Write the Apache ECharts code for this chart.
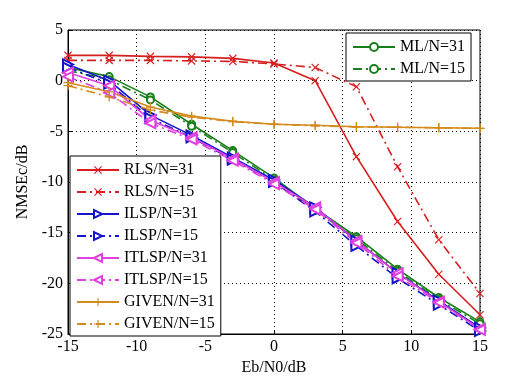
<!DOCTYPE html>
<html>
<head>
<meta charset="utf-8">
<script src="https://cdn.jsdelivr.net/npm/echarts@6/dist/echarts.min.js"></script>
<style>
  html, body { margin: 0; padding: 0; background: #fff; }
  #chart { width: 526px; height: 382px; }
</style>
</head>
<body>
<div id="chart"></div>
<script>
// Eb/N0 in dB
const snr = [-15, -12, -9, -6, -3, 0, 3, 6, 9, 12, 15]

// NMSEc in dB for each method
const rls31 = [2.5, 2.5, 2.4, 2.35, 2.2, 1.75, 0.0, -7.5, -13.9, -19.1, -23.1]
const rls15 = [2.0, 2.0, 2.0, 1.95, 1.9, 1.65, 1.3, -0.6, -8.5, -15.7, -21.0]
const ilsp31 = [1.6, 0.0, -3.4, -5.4, -7.6, -9.8, -12.5, -15.8, -19.0, -21.7, -24.4]
const ilsp15 = [1.3, -0.3, -3.7, -5.6, -7.8, -10.0, -12.9, -16.3, -19.5, -22.1, -24.7]
const itlsp31 = [0.8, -0.5, -3.9, -5.6, -7.7, -10.0, -12.5, -15.8, -19.0, -21.8, -24.5]
const itlsp15 = [0.4, -1.2, -4.2, -5.8, -7.9, -10.2, -12.7, -16.0, -19.3, -21.9, -24.6]
const given31 = [-0.2, -1.1, -2.6, -3.5, -4.0, -4.3, -4.4, -4.55, -4.6, -4.65, -4.7]
const given15 = [-0.5, -1.6, -2.9, -3.6, -4.05, -4.3, -4.45, -4.55, -4.6, -4.65, -4.7]
const ml31 = [1.3, 0.4, -1.6, -4.3, -6.9, -9.6, -12.6, -15.4, -18.6, -21.4, -23.8]
const ml15 = [1.0, 0.1, -1.9, -4.5, -7.1, -9.8, -12.8, -15.6, -18.8, -21.6, -24.0]

const FONT = 'Liberation Serif'
const DASHDOT = [9, 4, 2, 4]

// marker shapes
const X_MARK = 'path://M0,1L1,0L5,4L9,0L10,1L6,5L10,9L9,10L5,6L1,10L0,9L4,5Z'
const PLUS_MARK = 'path://M4.3,0H5.7V4.3H10V5.7H5.7V10H4.3V5.7H0V4.3H4.3Z'

function mk(name, data, color, dashed, symbol, opts) {
  opts = opts || {}
  return {
    name: name,
    type: 'line',
    data: snr.map((x, i) => [x, data[i]]),
    symbol: symbol,
    symbolSize: opts.size || 8,
    symbolRotate: opts.rotate || 0,
    showAllSymbol: true,
    lineStyle: { color: color, width: 1.6, type: dashed ? DASHDOT : 'solid' },
    itemStyle: opts.hollow
      ? { color: color, borderWidth: 1.6 }
      : { color: color, borderWidth: 0 },
    emphasis: { disabled: true },
    animation: false
  }
}

const RED = '#d81e1e'
const BLUE = '#1414cc'
const MAGENTA = '#e040e0'
const ORANGE = '#d48a1c'
const GREEN = '#1a7f1a'

const chart = echarts.init(document.getElementById('chart'))
chart.setOption({
  backgroundColor: '#fff',
  textStyle: { fontFamily: FONT },
  grid: {
    left: 68, right: 46, top: 30, bottom: 48,
    show: true, borderColor: '#000', borderWidth: 1
  },
  legend: [
    {
      data: ['RLS/N=31', 'RLS/N=15', 'ILSP/N=31', 'ILSP/N=15',
        'ITLSP/N=31', 'ITLSP/N=15', 'GIVEN/N=31', 'GIVEN/N=15'],
      orient: 'vertical',
      left: 70, top: 156,
      itemWidth: 42, itemHeight: 10, itemGap: 6,
      padding: [6, 6, 4, 6],
      backgroundColor: '#fff', borderColor: '#000', borderWidth: 1,
      textStyle: { fontFamily: FONT, fontSize: 16, color: '#000', lineHeight: 16 },
      selectedMode: false
    },
    {
      data: ['ML/N=31', 'ML/N=15'],
      orient: 'vertical',
      left: 346, top: 33,
      itemWidth: 42, itemHeight: 10, itemGap: 6,
      padding: [6, 6, 4, 6],
      backgroundColor: '#fff', borderColor: '#000', borderWidth: 1,
      textStyle: { fontFamily: FONT, fontSize: 16, color: '#000', lineHeight: 16 },
      selectedMode: false
    }
  ],
  xAxis: {
    type: 'value', min: -15, max: 15, interval: 5,
    name: 'Eb/N0/dB', nameLocation: 'middle', nameGap: 25,
    nameTextStyle: { fontFamily: FONT, fontSize: 16, color: '#000' },
    axisLine: { onZero: false, lineStyle: { color: '#000' } },
    axisTick: { inside: true, length: 4, lineStyle: { color: '#000' } },
    axisLabel: { fontFamily: FONT, fontSize: 16, color: '#000', margin: 5 },
    splitLine: { show: true, lineStyle: { color: '#000', type: [1, 3], width: 1 } }
  },
  yAxis: {
    type: 'value', min: -25, max: 5, interval: 5,
    name: 'NMSEc/dB', nameLocation: 'middle', nameGap: 34,
    nameTextStyle: { fontFamily: FONT, fontSize: 16, color: '#000' },
    axisLine: { onZero: false, lineStyle: { color: '#000' } },
    axisTick: { inside: true, length: 4, lineStyle: { color: '#000' } },
    axisLabel: { fontFamily: FONT, fontSize: 16, color: '#000', margin: 5 },
    splitLine: { show: true, lineStyle: { color: '#000', type: [1, 3], width: 1 } }
  },
  // ML drawn first so the LS curves sit on top of it, as in the original
  series: [
    mk('ML/N=31', ml31, GREEN, false, 'emptyCircle', { hollow: true, size: 7 }),
    mk('ML/N=15', ml15, GREEN, true, 'emptyCircle', { hollow: true, size: 7 }),
    mk('RLS/N=31', rls31, RED, false, X_MARK),
    mk('RLS/N=15', rls15, RED, true, X_MARK),
    mk('ILSP/N=31', ilsp31, BLUE, false, 'emptyTriangle', { hollow: true, rotate: -90, size: 10 }),
    mk('ILSP/N=15', ilsp15, BLUE, true, 'emptyTriangle', { hollow: true, rotate: -90, size: 10 }),
    mk('ITLSP/N=31', itlsp31, MAGENTA, false, 'emptyTriangle', { hollow: true, rotate: 90, size: 10 }),
    mk('ITLSP/N=15', itlsp15, MAGENTA, true, 'emptyTriangle', { hollow: true, rotate: 90, size: 10 }),
    mk('GIVEN/N=31', given31, ORANGE, false, PLUS_MARK, { size: 9 }),
    mk('GIVEN/N=15', given15, ORANGE, true, PLUS_MARK, { size: 9 })
  ]
})
</script>
</body>
</html>
